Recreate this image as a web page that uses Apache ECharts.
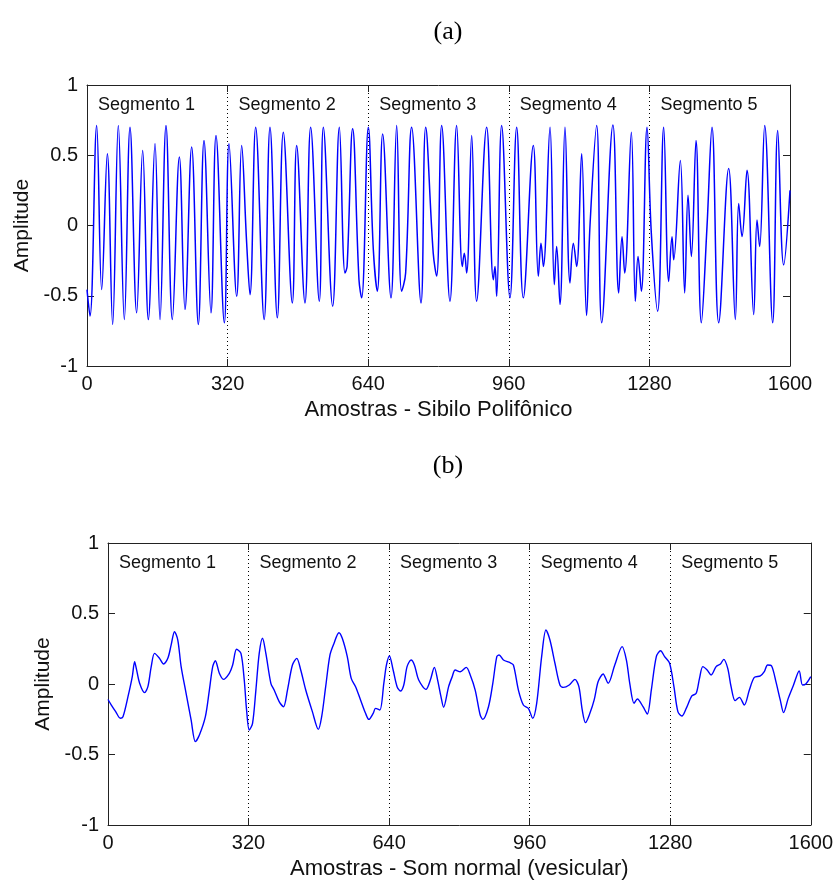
<!DOCTYPE html>
<html><head><meta charset="utf-8">
<script src="https://cdn.jsdelivr.net/npm/echarts@6/dist/echarts.min.js"></script>
<style>html,body{margin:0;padding:0;background:#fff}#c{width:836px;height:882px}</style>
</head><body><div id="c"></div>
<script>
const xTicks = [0, 320, 640, 960, 1280, 1600];
const yTicks = [-1, -0.5, 0, 0.5, 1];
const segmentStarts = [0, 320, 640, 960, 1280];
const segmentNames = ['Segmento 1', 'Segmento 2', 'Segmento 3', 'Segmento 4', 'Segmento 5'];
const panelTitles = ['(a)', '(b)'];
const xTitles = ['Amostras - Sibilo Polifônico', 'Amostras - Som normal (vesicular)'];
const yTitle = 'Amplitude';

// (a) Sibilo polifônico — extremos e ombros
const sibiloX = [0,6.8,22,33.4,46.3,58.4,71.3,85,97.9,113,126.7,139.6,154.8,166.2,179.8,194.2,210.2,223,238.2,253.4,266.3,282.2,293.6,312.6,323.2,340.7,352,363.4,371,383.9,403.2,416.5,433.2,446.8,467.3,477.2,496.1,509,528.7,537.9,559.1,574.3,587.2,592,604.6,619,625.1,640.3,651.7,660.8,672.9,691.9,704.8,716.1,725.2,738.9,760.2,770.8,788,795.8,807.2,826.1,841.3,854.2,858.8,864.1,875.5,886.8,909.6,924.8,928.6,932.4,943.7,962.7,977.9,993,1015.8,1027.2,1033.3,1038.6,1053.8,1063.6,1068.9,1076.5,1087.9,1099.3,1106.9,1114.4,1125.8,1137,1144.8,1160,1171.4,1197,1210.1,1217.7,1223.7,1238.9,1248,1254.1,1261.7,1274.6,1284.4,1298.8,1312.5,1323.9,1331.5,1335.3,1350.4,1360.3,1367.9,1375.5,1386.1,1398.2,1411.1,1422.5,1437.7,1460.4,1475.6,1483.2,1490.8,1502.2,1517.4,1524.9,1530.9,1542.4,1560.6,1572,1585.6,1600];
const sibiloY = [-0.456,-0.645,0.711,-0.456,0.511,-0.704,0.711,-0.669,0.699,-0.621,0.534,-0.669,0.581,-0.669,0.711,-0.669,0.487,-0.598,0.558,-0.704,0.605,-0.621,0.64,-0.692,0.581,-0.504,0.57,-0.126,-0.492,0.699,-0.669,0.699,-0.657,0.664,-0.551,0.57,-0.551,0.699,-0.539,0.699,-0.574,0.699,-0.338,-0.29,0.688,-0.386,-0.515,0.699,-0.173,-0.468,0.652,-0.515,0.711,-0.468,-0.338,0.699,-0.551,0.699,-0.197,-0.36,0.711,-0.539,0.711,-0.291,-0.197,-0.338,0.64,-0.539,0.699,-0.386,-0.291,-0.504,0.711,-0.515,0.699,-0.515,0.57,-0.362,-0.126,-0.291,0.699,-0.421,-0.15,-0.562,0.699,-0.409,-0.126,-0.291,0.511,-0.64,0.0,0.711,-0.692,0.715,-0.48,-0.08,-0.338,0.664,-0.539,-0.22,-0.468,0.699,-0.056,-0.61,0.699,-0.398,-0.08,-0.244,0.463,-0.48,0.216,-0.22,0.605,-0.692,-0.008,0.699,-0.692,0.405,-0.669,0.157,-0.079,0.393,-0.633,0.04,-0.15,0.711,-0.692,0.676,-0.28,0.25];

// (b) Som normal (vesicular)
const vesicularX = [0,7.6,17.5,28,34.1,45.5,55.3,60.6,64.4,72,83.3,90.8,98.4,106,117.3,126.4,136.2,143.8,151.4,158.9,166.5,177.8,189.2,199,208.1,221.7,230.8,238.4,244.4,253.5,262.6,276.2,283.8,292.8,302.7,310.2,315.5,321.6,329.1,336.7,344.3,351.8,359.4,370.8,378.3,389.7,399.5,408.6,419.9,429.8,438.8,450.2,465.3,478.9,486.5,495.6,505.4,514.5,525.8,533.4,544.8,553.8,563.7,575,586.4,593.9,603.8,609.1,618.9,628,634,640.8,649.2,658.2,665.8,673.4,680.9,690,697.6,707.4,724,733.9,743,750.5,758.1,764.1,775.5,783.1,790.6,802,815.6,824.7,836,847.4,853.4,866.3,876.1,885.2,890.5,900.3,915.4,923,934.4,945.7,957.1,966.9,976,987.3,997.1,1006.2,1017.6,1028.9,1036.5,1050.1,1063,1072.1,1079.7,1087.2,1097.1,1106.9,1116,1127.3,1138.7,1153.8,1170.5,1180.3,1187.9,1197.7,1205.3,1218.1,1227.9,1237,1248.4,1258.2,1267.3,1278.6,1288.5,1297.5,1306.6,1316.5,1329.3,1339.2,1346.7,1354.3,1364.1,1373.2,1384.5,1394.4,1401.9,1411,1418.6,1427.7,1437.5,1448.8,1460.2,1471.5,1485.2,1494.2,1501.8,1510.9,1520.7,1530.5,1538.1,1548.7,1560.8,1573.7,1581.2,1588.8,1600];
const vesicularY = [-0.11,-0.149,-0.196,-0.243,-0.232,-0.09,0.052,0.158,0.111,0.005,-0.061,-0.019,0.123,0.217,0.182,0.142,0.182,0.277,0.371,0.312,0.123,-0.066,-0.255,-0.409,-0.362,-0.232,-0.043,0.123,0.165,0.076,0.033,0.076,0.135,0.246,0.217,0.028,-0.184,-0.326,-0.279,-0.043,0.217,0.324,0.217,0.005,-0.043,-0.125,-0.161,-0.043,0.135,0.182,0.099,-0.043,-0.196,-0.322,-0.232,-0.019,0.206,0.288,0.364,0.324,0.194,0.04,-0.019,-0.113,-0.208,-0.251,-0.208,-0.173,-0.184,0.005,0.135,0.199,0.099,-0.019,-0.05,-0.007,0.123,0.17,0.135,0.028,-0.038,0.028,0.118,0.028,-0.09,-0.165,-0.019,0.047,0.099,0.087,0.118,0.064,-0.043,-0.22,-0.251,-0.161,0.005,0.194,0.206,0.17,0.151,0.135,-0.043,-0.149,-0.173,-0.243,-0.137,0.194,0.383,0.312,0.147,-0.007,-0.024,-0.007,0.033,-0.019,-0.184,-0.274,-0.208,-0.113,0.017,0.071,0.005,0.135,0.265,0.17,0.005,-0.137,-0.106,-0.161,-0.213,-0.043,0.194,0.236,0.194,0.147,-0.019,-0.196,-0.227,-0.173,-0.085,-0.066,0.04,0.123,0.099,0.064,0.123,0.142,0.175,0.111,-0.019,-0.118,-0.095,-0.149,-0.043,0.047,0.057,0.087,0.135,0.128,0.017,-0.113,-0.203,-0.102,-0.007,0.092,-0.007,0.0,0.052];

const FONT = 'Liberation Sans';
const TXT = '#111';
const AX = '#222';

const grids = [
  { left: 87, top: 85, width: 703, height: 281 },
  { left: 108, top: 543, width: 705, height: 282 }
];

const xAxes = [], yAxes = [], series = [], titles = [];
grids.forEach((g, gi) => {
  xAxes.push({
    type: 'value', gridIndex: gi, position: 'bottom',
    min: xTicks[0], max: xTicks[xTicks.length - 1], interval: xTicks[1] - xTicks[0],
    name: xTitles[gi], nameLocation: 'middle', nameGap: 33,
    nameTextStyle: { fontFamily: FONT, fontSize: 22, color: TXT },
    axisLine: { show: true, onZero: false, lineStyle: { color: AX, width: 1 } },
    axisTick: { show: true, inside: true, length: 7, lineStyle: { color: AX } },
    axisLabel: { show: true, fontFamily: FONT, fontSize: 20, color: TXT, margin: 8,
      showMinLabel: true, showMaxLabel: true, formatter: v => String(v) },
    splitLine: { show: true, lineStyle: { color: '#000', type: [1, 3], width: 1 } }
  });
  xAxes.push({
    type: 'value', gridIndex: gi, position: 'top',
    min: xTicks[0], max: xTicks[xTicks.length - 1], interval: xTicks[1] - xTicks[0],
    axisLine: { show: true, onZero: false, lineStyle: { color: AX, width: 1 } },
    axisTick: { show: true, inside: true, length: 7, lineStyle: { color: AX } },
    axisLabel: { show: false }, splitLine: { show: false }
  });
  yAxes.push({
    type: 'value', gridIndex: gi, position: 'left',
    min: yTicks[0], max: yTicks[yTicks.length - 1], interval: yTicks[1] - yTicks[0],
    name: yTitle, nameLocation: 'middle', nameGap: 47, nameRotate: 90,
    nameTextStyle: { fontFamily: FONT, fontSize: 21, color: TXT },
    axisLine: { show: true, onZero: false, lineStyle: { color: AX, width: 1 } },
    axisTick: { show: true, inside: true, length: 7, lineStyle: { color: AX } },
    axisLabel: { show: true, fontFamily: FONT, fontSize: 20, color: TXT, margin: 9,
      showMinLabel: true, showMaxLabel: true, formatter: v => String(v) },
    splitLine: { show: false }
  });
  yAxes.push({
    type: 'value', gridIndex: gi, position: 'right',
    min: yTicks[0], max: yTicks[yTicks.length - 1], interval: yTicks[1] - yTicks[0],
    axisLine: { show: true, onZero: false, lineStyle: { color: AX, width: 1 } },
    axisTick: { show: true, inside: true, length: 7, lineStyle: { color: AX } },
    axisLabel: { show: false }, splitLine: { show: false }
  });
});

series.push({
  type: 'line', xAxisIndex: 0, yAxisIndex: 0,
  data: sibiloX.map((x, i) => [x, sibiloY[i]]),
  showSymbol: false, smooth: 0.4, silent: true,
  lineStyle: { color: '#0000ff', width: 1.5 }
});
series.push({
  type: 'line', xAxisIndex: 2, yAxisIndex: 2,
  data: vesicularX.map((x, i) => [x, vesicularY[i]]),
  showSymbol: false, smooth: 0.3, silent: true,
  lineStyle: { color: '#0000ff', width: 1.4 }
});
[0, 2].forEach(ai => {
  series.push({
    type: 'scatter', xAxisIndex: ai, yAxisIndex: ai, silent: true,
    symbolSize: 0, itemStyle: { opacity: 1 },
    data: segmentStarts.map(s => [s, 0.86]),
    label: {
      show: true, position: 'right', distance: 11, opacity: 1,
      formatter: p => segmentNames[p.dataIndex],
      fontFamily: FONT, fontSize: 18, color: TXT
    }
  });
});

titles.push({ text: panelTitles[0], left: 443, top: 14, textAlign: 'center',
  textStyle: { fontFamily: 'Liberation Serif', fontSize: 26, fontWeight: 'normal', color: '#000' } });
titles.push({ text: panelTitles[1], left: 443, top: 448, textAlign: 'center',
  textStyle: { fontFamily: 'Liberation Serif', fontSize: 26, fontWeight: 'normal', color: '#000' } });

const chart = echarts.init(document.getElementById('c'), null, { renderer: 'canvas' });
chart.setOption({
  animation: false,
  backgroundColor: '#fff',
  title: titles,
  grid: grids,
  xAxis: xAxes,
  yAxis: yAxes,
  series: series
});
</script>
</body></html>
